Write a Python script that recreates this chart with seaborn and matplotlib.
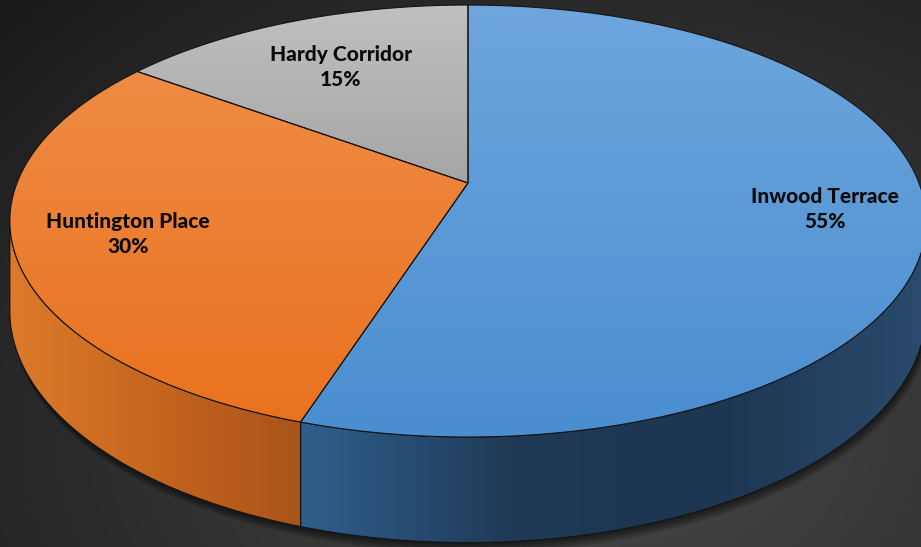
import numpy as np
import matplotlib
matplotlib.use("Agg")
import matplotlib.pyplot as plt
import seaborn as sns
from matplotlib.patches import Polygon
from matplotlib.colors import LinearSegmentedColormap

# slices, clockwise from 12 o'clock
labels = ["Inwood Terrace", "Huntington Place", "Hardy Corridor"]
shares = [55, 30, 15]
top_colors = [["#6ea6dd", "#4a8ed0"], ["#ef8b44", "#e9721f"], ["#c0c0c0", "#a5a5a5"]]
side_colors = [["#305f8c", "#1f3a57", "#1d3651", "#2a4b6d"], ["#dd7a2a", "#c5651f", "#aa541a"], ["#8a8a8a", "#6f6f6f"]]
label_radius = [0.785, 0.76, 0.69]

sns.set_theme(style="white")
plt.rcParams["font.family"] = ["Lato", "DejaVu Sans"]

W, H = 921, 547
fig = plt.figure(figsize=(W / 100, H / 100), dpi=100)
ax = fig.add_axes([0, 0, 1, 1])
ax.set_axis_off()

# background: dark radial gradient
yy, xx = np.mgrid[0:H, 0:W]
d = np.sqrt(((xx - 600) / 700.0) ** 2 + ((yy - 420) / 520.0) ** 2)
g = np.clip(0.29 - 0.16 * d, 0.1, 0.3)
ax.imshow(np.dstack([g, g, g]), extent=(0, W, H, 0), origin="upper", zorder=0, aspect="auto")

# perspective pie geometry (pixels)
cx, cy = 468, 183
A, B, k = 451, 209.3, 0.176
thick = 87


def proj(theta, r=1.0, drop=0.0):
    th = np.radians(theta)
    x = r * np.sin(th)
    y = r * np.cos(th)
    den = 1 + k * y
    return cx + A * x / den, cy - B * y / den + drop / den


def grad_fill(poly, colors, horizontal=False, z=2):
    xs, ys = poly[:, 0], poly[:, 1]
    cmap = LinearSegmentedColormap.from_list("g", colors)
    gr = np.linspace(0, 1, 256)
    gr = gr.reshape(1, -1) if horizontal else gr.reshape(-1, 1)
    patch = Polygon(poly, closed=True, facecolor="none", edgecolor="#151515", lw=0.8, zorder=z + 0.5)
    ax.add_patch(patch)
    im = ax.imshow(gr, cmap=cmap, extent=(xs.min(), xs.max(), ys.max(), ys.min()),
                   origin="upper", aspect="auto", zorder=z)
    im.set_clip_path(patch)


bounds = np.concatenate([[0], np.cumsum(shares)]) * 3.6
vis_lo = np.degrees(np.arccos(-k))
vis_hi = 360 - vis_lo

# drop shadow under the base
t_all = np.linspace(0, 360, 400)
bx, by = proj(t_all, drop=thick)
for off in [2, 4, 6, 8, 10]:
    ax.add_patch(Polygon(np.column_stack([bx + off * 0.3, by + off]), closed=True,
                         facecolor="black", edgecolor="none", alpha=0.13, zorder=1))

# side walls (front-facing part only)
for i in range(len(shares)):
    a0, a1 = max(bounds[i], vis_lo), min(bounds[i + 1], vis_hi)
    if a1 <= a0:
        continue
    t = np.linspace(a0, a1, 120)
    tx, ty = proj(t)
    bx2, by2 = proj(t[::-1], drop=thick)
    poly = np.column_stack([np.concatenate([tx, bx2]), np.concatenate([ty, by2])])
    grad_fill(poly, side_colors[i], horizontal=True, z=2)

# top faces
for i in range(len(shares)):
    t = np.linspace(bounds[i], bounds[i + 1], 150)
    tx, ty = proj(t)
    poly = np.column_stack([np.concatenate([[cx], tx]), np.concatenate([[cy], ty])])
    grad_fill(poly, top_colors[i], z=4)

# labels
for i, name in enumerate(labels):
    mid = (bounds[i] + bounds[i + 1]) / 2
    lx, ly = proj(mid, r=label_radius[i])
    ax.text(lx, ly, f"{name}\n{shares[i]}%", ha="center", va="center", fontsize=15,
            fontweight="black", color="#0a0a0a", linespacing=1.4, zorder=10)

ax.set_xlim(0, W)
ax.set_ylim(H, 0)
fig.savefig("out.png", dpi=100)
